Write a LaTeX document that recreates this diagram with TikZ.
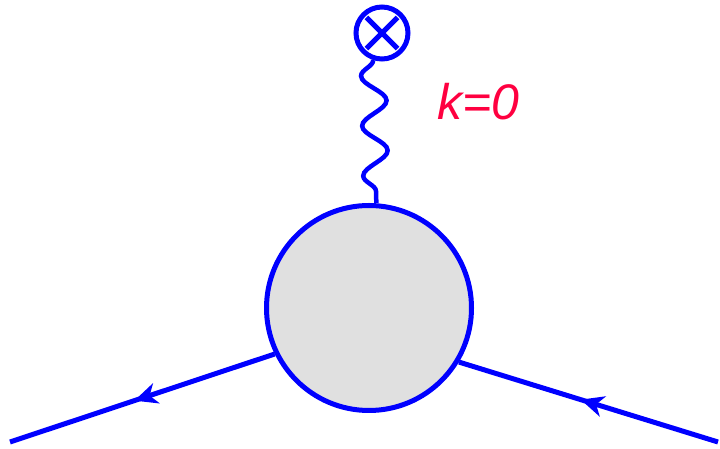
\documentclass[tikz,border=0pt]{standalone}
\usepackage{fontspec}
\setsansfont{Liberation Sans}
\definecolor{LineBlue}{RGB}{0,0,255}
\definecolor{BlobGray}{RGB}{224,224,224}
\definecolor{LabelRed}{RGB}{255,0,64}
\usetikzlibrary{arrows.meta,decorations.markings,decorations.pathmorphing}

\begin{document}
\begin{tikzpicture}[
    x=1pt, y=1pt,
    line/.style={LineBlue, line width=5pt},
    blob/.style={circle, draw=LineBlue, line width=5pt, fill=BlobGray,
                 inner sep=0pt, minimum size=205pt},
    source/.style={circle, draw=LineBlue, line width=5pt, fill=white,
                   inner sep=0pt, minimum size=52pt},
    fermion/.style={line, postaction={decorate}, decoration={markings,
                    mark=at position 0.53 with {\arrow{Stealth[length=23pt,width=21pt,inset=7pt]}}}},
    photon/.style={line, line width=4.5pt, decorate,
                   decoration={snake, segment length=50pt, amplitude=-12.5pt}}
  ]
    \useasboundingbox (0,0) rectangle (720,449);
    \node[blob] (blob) at (369,141) {};
    \node[source] (src) at (382,416) {};
    \draw[line] ([shift={(45:22pt)}]src.center) -- ([shift={(225:22pt)}]src.center);
    \draw[line] ([shift={(135:22pt)}]src.center) -- ([shift={(315:22pt)}]src.center);
    \coordinate (lout) at (10,7);
    \coordinate (rin) at (718,7);
    \draw[photon] (src.252) -- (blob.86);
    \draw[fermion] (blob.206) -- (lout);
    \draw[fermion] (rin) -- (blob.329);
    \node[font=\fontsize{50}{50}\selectfont\sffamily\itshape, text=LabelRed] (lbl) at (478,347) {k=0};
  \end{tikzpicture}
\end{document}
